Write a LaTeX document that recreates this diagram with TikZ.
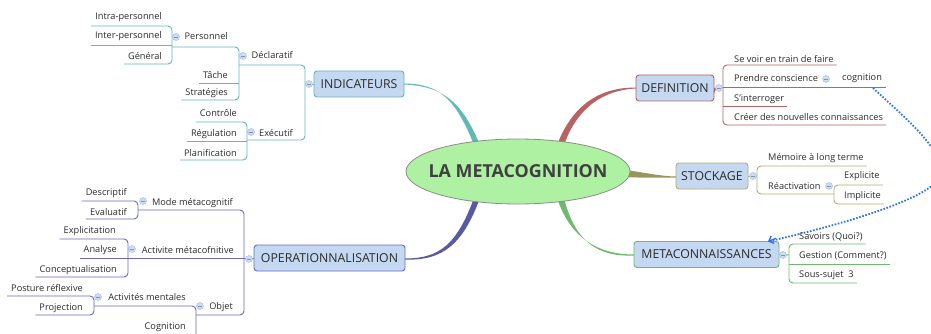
\documentclass[tikz,border=0pt]{standalone}
\usepackage{fontspec}
\setmainfont{Open Sans}
\usetikzlibrary{calc,shapes.geometric,arrows.meta}

% branch colours
\definecolor{tealc}{HTML}{62B8B8}
\definecolor{redc}{HTML}{B86262}
\definecolor{olivec}{HTML}{B5AF6C}
\definecolor{greenc}{HTML}{6FB86F}
\definecolor{purplec}{HTML}{6A6AC0}
\definecolor{boxfill}{HTML}{C5D8F1}
\definecolor{txt}{HTML}{2B2B2B}
\definecolor{centerfill}{HTML}{AEF1A3}
\definecolor{linkblue}{HTML}{2F74E4}
\definecolor{btnfill}{HTML}{CCDCF4}
\definecolor{btnline}{HTML}{9FB8E2}

\tikzset{
  leaf/.style={font=\fontsize{9.2}{11}\selectfont, text=txt, inner sep=0pt},
  topic/.style={draw, line width=0.9pt, rounded corners=3pt, fill=boxfill,
    text=txt, font=\fontsize{12.3}{14}\selectfont, minimum height=26pt,
    inner sep=0pt},
  branch/.style={line width=0.9pt, rounded corners=4pt},
  btn/.style={circle, minimum size=7pt, inner sep=0pt, fill=btnfill,
    draw=btnline, line width=0.4pt,
    path picture={\draw[btnline!80!black, line width=0.6pt]
      ([xshift=-1.7pt]path picture bounding box.center) --
      ([xshift=1.7pt]path picture bounding box.center);}},
  relation/.style={linkblue, line width=1.8pt, dash pattern=on 1.6pt off 1.6pt},
}

% leaf text to the right of its spine, with the underline end point (name-u)
\newcommand\leafR[5]{%
  \node[leaf, anchor=base west] (#1) at (#2,#3) {#5};
  \path (#1.base east) ++(3,#4-#3) coordinate (#1-u);}
% leaf text to the left of its spine
\newcommand\leafL[5]{%
  \node[leaf, anchor=base east] (#1) at (#2,#3) {#5};
  \path (#1.base west) ++(-4,#4-#3) coordinate (#1-u);}

\begin{document}
\begin{tikzpicture}[x=1pt, y=-1pt]
\useasboundingbox (0,0) rectangle (931,334);
\fill[white] (0,0) rectangle (931,334);
\clip (0,0) rectangle (931,334);

% ---------- tapered main connectors ----------
\fill[tealc] (474,145) .. controls (456,100) and (440,83.6) .. (404,83.5)
  -- (404,84.5) .. controls (443,86) and (462,102) .. (480,145) -- cycle;
\fill[redc] (557,145) .. controls (573,104) and (600,87.5) .. (636,87.5)
  -- (636,88.5) .. controls (603,90) and (577,108) .. (564,145) -- cycle;
\fill[olivec!85!black] (622,169.5) .. controls (648,173) and (660,176.2) .. (676,176.5)
  -- (676,177.5) .. controls (660,177.6) and (645,178) .. (622,177) -- cycle;
\fill[purplec!85!black] (474,198) .. controls (457,244) and (440,258.5) .. (405,258.5)
  -- (405,259.5) .. controls (443,261) and (463,244) .. (480,198) -- cycle;
\fill[greenc] (557,198) .. controls (571,240) and (600,254.5) .. (634,254.5)
  -- (634,255.5) .. controls (598,257) and (575,242) .. (564,198) -- cycle;

% ---------- central topic ----------
\node[ellipse, draw=black!45, line width=0.8pt, fill=centerfill,
  minimum width=224pt, minimum height=65pt, inner sep=0pt] (root) at (518,171.5) {};
\node[font=\fontsize{17.9}{21}\bfseries\selectfont, text=black!75, inner sep=0pt]
  (roottext) at (root.center) {LA METACOGNITION};

% ---------- main topics ----------
\node[topic, draw=tealc, minimum width=90pt] (ind) at (359,84) {INDICATEURS};
\node[topic, draw=redc, minimum width=78pt] (def) at (675,88) {DEFINITION};
\node[topic, draw=olivec, minimum width=72pt] (sto) at (712,176) {STOCKAGE};
\node[topic, draw=greenc, minimum width=145pt] (mec) at (706.5,254.5) {METACONNAISSANCES};
\node[topic, draw=purplec, minimum width=151pt] (ope) at (329.5,258) {OPERATIONNALISATION};

% ================= INDICATEURS =================
\begin{scope}[tealc]
\leafL{intra}{162}{20}{26}{Intra-personnel}
\leafL{inter}{162}{39}{45}{Inter-personnel}
\leafL{gen}{162}{60}{64}{Général}
\node[leaf, anchor=base east] (pers) at (228,40) {Personnel};
\leafL{tache}{228}{79}{83}{Tâche}
\leafL{strat}{228}{96}{100}{Stratégies}
\node[leaf, anchor=base east] (decl) at (293,59) {Déclaratif};
\leafL{ctrl}{237}{117}{122}{Contrôle}
\leafL{regu}{237}{136}{141}{Régulation}
\leafL{plan}{237}{156}{160}{Planification}
\node[leaf, anchor=base east] (exec) at (293,136) {Exécutif};

\draw[branch] (ind.west) -- (305,84);
\draw[branch] (239,65) -- (305,65) -- (305,140) -- (247,140);
\draw[branch] (172,47) -- (239,47) -- (239,100) -- (strat-u);
\draw[branch] (239,83) -- (tache-u);
\draw[branch] (intra-u) -- (172,26) -- (172,64) -- (gen-u);
\draw[branch] (172,45) -- (inter-u);
\draw[branch] (ctrl-u) -- (247,122) -- (247,160) -- (plan-u);
\draw[branch] (247,141) -- (regu-u);
\end{scope}
\node[btn] (bind) at (309,84) {};
\node[btn] (bdecl) at (243,56) {};
\node[btn] (bpers) at (176,37) {};
\node[btn] (bexec) at (251,132) {};

% ================= DEFINITION =================
\begin{scope}[redc]
\leafR{voir}{734}{63}{65}{Se voir en train de faire}
\node[leaf, anchor=base west] (prend) at (734,82) {Prendre conscience};
\node[leaf, anchor=base west] (cogn) at (842,81) {cognition};
\leafR{inter2}{734}{102}{106}{S'interroger}
\leafR{creer}{734}{121}{125}{Créer des nouvelles connaissances}

\draw[branch] (def.east) |- (723,87.5);
\draw[branch] (voir-u) -- (723,65) -- (723,125) -- (creer-u);
\draw[branch] (723,87.5) -- ([xshift=4pt]cogn.east |- 0,87.5);
\draw[branch] (723,106) -- (inter2-u);
\end{scope}
\node[btn] (bdef) at (719,88) {};
\node[btn] (bprend) at (826,79) {};

% ================= STOCKAGE =================
\begin{scope}[olivec]
\leafR{memo}{768}{160}{166}{Mémoire à long terme}
\node[leaf, anchor=base west] (react) at (768,189) {Réactivation};
\leafR{expl}{844}{178}{185}{Explicite}
\leafR{impl}{844}{198}{204}{Implicite}

\draw[branch] (sto.east) -- (757,176);
\draw[branch] (memo-u) -- (757,166) -- (757,194) -- (834,194);
\draw[branch] (expl-u) -- (834,185) -- (834,204) -- (impl-u);
\end{scope}
\node[btn] (bsto) at (753,176) {};
\node[btn] (breact) at (829,186) {};

% ================= METACONNAISSANCES =================
\begin{scope}[greenc]
\leafR{sav}{799}{239}{244}{Savoirs (Quoi?)}
\leafR{gest}{799}{258}{264}{Gestion (Comment?)}
\leafR{sous}{799}{277}{283}{Sous-sujet\ \ 3}

\draw[branch] (mec.east) -- (789,255);
\draw[branch] (sav-u) -- (789,244) -- (789,283) -- (sous-u);
\draw[branch] (789,264) -- (gest-u);
\end{scope}
\node[btn] (bmec) at (783,255) {};

% ================= OPERATIONNALISATION =================
\begin{scope}[purplec]
\leafL{desc}{127}{195}{201}{Descriptif}
\leafL{eval}{127}{215}{219}{Evaluatif}
\node[leaf, anchor=base east] (mode) at (233,205) {Mode métacognitif};
\leafL{explic}{116}{233}{239}{Explicitation}
\leafL{anal}{117}{252}{258}{Analyse}
\leafL{conc}{117}{272}{277}{Conceptualisation}
\node[leaf, anchor=base east] (activ) at (234,253) {Activite métacofnitive};
\leafL{post}{83}{291}{296}{Posture réflexive}
\leafL{proj}{83}{310}{315}{Projection}
\node[leaf, anchor=base east] (ment) at (186,300) {Activités mentales};
\node[leaf, anchor=base east] (objet) at (233,309) {Objet};
\leafL{cogn2}{186}{329}{338}{Cognition}

\draw[branch] (ope.west) -- (244,258);
\draw[branch] (138,210) -- (244,210) -- (244,315) -- (196,315);
\draw[branch] (244,258) -- (128,258);
\draw[branch] (desc-u) -- (138,201) -- (138,219) -- (eval-u);
\draw[branch] (explic-u) -- (128,239) -- (128,277) -- (conc-u);
\draw[branch] (128,258) -- (anal-u);
\draw[branch] (94,306) -- (196,306) -- (196,338) -- (cogn2-u);
\draw[branch] (post-u) -- (94,296) -- (94,315) -- (proj-u);
\end{scope}
\node[btn] (bope) at (249,259) {};
\node[btn] (bmode) at (143,201) {};
\node[btn] (bactiv) at (132,249) {};
\node[btn] (bment) at (98,297) {};
\node[btn] (bobjet) at (200,306) {};

% ---------- relation from "cognition" to METACONNAISSANCES ----------
\coordinate (relstart) at (873,88);
\coordinate (relturn) at (940,175);
\coordinate (reltip) at (768,241.5);
\draw[relation] (relstart)
  .. controls (905,118) and (945,150) .. (relturn)
  .. controls (935,198) and (840,225) .. (reltip);
\draw[linkblue, line width=1.4pt, -{Straight Barb[length=4pt,width=8pt]}]
  (776,238.3) -- (reltip);
\end{tikzpicture}
\end{document}
